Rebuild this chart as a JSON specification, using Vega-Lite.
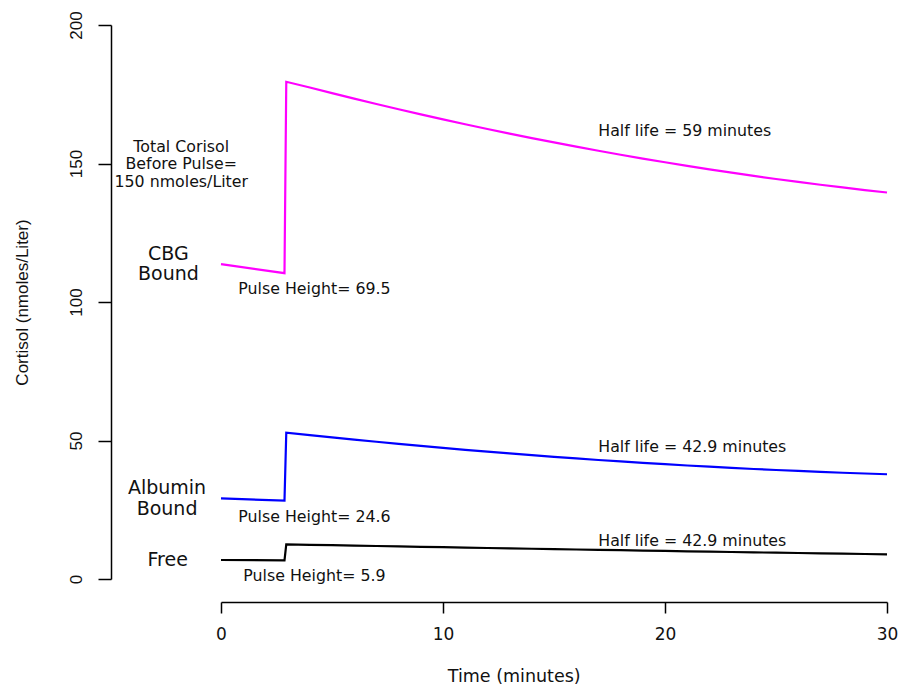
{
  "$schema": "https://vega.github.io/schema/vega-lite/v6.json",
  "width": 666,
  "height": 554,
  "autosize": {"type": "none"},
  "padding": {"left": 221, "top": 25, "right": 13, "bottom": 106},
  "background": "white",
  "config": {"view": {"stroke": null}, "font": "DejaVu Sans"},
  "datasets": {
    "curves": [
      {"series": "CBG Bound", "t": 0, "v": 113.7},
      {"series": "CBG Bound", "t": 2.86, "v": 110.4},
      {"series": "CBG Bound", "t": 2.94, "v": 179.5},
      {"series": "CBG Bound", "t": 4, "v": 177.42},
      {"series": "CBG Bound", "t": 5, "v": 175.39},
      {"series": "CBG Bound", "t": 6, "v": 173.41},
      {"series": "CBG Bound", "t": 7, "v": 171.47},
      {"series": "CBG Bound", "t": 8, "v": 169.57},
      {"series": "CBG Bound", "t": 9, "v": 167.73},
      {"series": "CBG Bound", "t": 10, "v": 165.93},
      {"series": "CBG Bound", "t": 11, "v": 164.17},
      {"series": "CBG Bound", "t": 12, "v": 162.46},
      {"series": "CBG Bound", "t": 13, "v": 160.8},
      {"series": "CBG Bound", "t": 14, "v": 159.18},
      {"series": "CBG Bound", "t": 15, "v": 157.61},
      {"series": "CBG Bound", "t": 16, "v": 156.08},
      {"series": "CBG Bound", "t": 17, "v": 154.6},
      {"series": "CBG Bound", "t": 18, "v": 153.17},
      {"series": "CBG Bound", "t": 19, "v": 151.78},
      {"series": "CBG Bound", "t": 20, "v": 150.44},
      {"series": "CBG Bound", "t": 21, "v": 149.14},
      {"series": "CBG Bound", "t": 22, "v": 147.89},
      {"series": "CBG Bound", "t": 23, "v": 146.68},
      {"series": "CBG Bound", "t": 24, "v": 145.53},
      {"series": "CBG Bound", "t": 25, "v": 144.41},
      {"series": "CBG Bound", "t": 26, "v": 143.35},
      {"series": "CBG Bound", "t": 27, "v": 142.33},
      {"series": "CBG Bound", "t": 28, "v": 141.35},
      {"series": "CBG Bound", "t": 29, "v": 140.42},
      {"series": "CBG Bound", "t": 30, "v": 139.54},
      {"series": "Albumin Bound", "t": 0, "v": 29.1},
      {"series": "Albumin Bound", "t": 2.86, "v": 28.3},
      {"series": "Albumin Bound", "t": 2.94, "v": 52.8},
      {"series": "Albumin Bound", "t": 4, "v": 51.95},
      {"series": "Albumin Bound", "t": 5, "v": 51.12},
      {"series": "Albumin Bound", "t": 6, "v": 50.32},
      {"series": "Albumin Bound", "t": 7, "v": 49.54},
      {"series": "Albumin Bound", "t": 8, "v": 48.78},
      {"series": "Albumin Bound", "t": 9, "v": 48.04},
      {"series": "Albumin Bound", "t": 10, "v": 47.33},
      {"series": "Albumin Bound", "t": 11, "v": 46.64},
      {"series": "Albumin Bound", "t": 12, "v": 45.97},
      {"series": "Albumin Bound", "t": 13, "v": 45.32},
      {"series": "Albumin Bound", "t": 14, "v": 44.7},
      {"series": "Albumin Bound", "t": 15, "v": 44.1},
      {"series": "Albumin Bound", "t": 16, "v": 43.52},
      {"series": "Albumin Bound", "t": 17, "v": 42.97},
      {"series": "Albumin Bound", "t": 18, "v": 42.44},
      {"series": "Albumin Bound", "t": 19, "v": 41.93},
      {"series": "Albumin Bound", "t": 20, "v": 41.44},
      {"series": "Albumin Bound", "t": 21, "v": 40.98},
      {"series": "Albumin Bound", "t": 22, "v": 40.54},
      {"series": "Albumin Bound", "t": 23, "v": 40.12},
      {"series": "Albumin Bound", "t": 24, "v": 39.72},
      {"series": "Albumin Bound", "t": 25, "v": 39.35},
      {"series": "Albumin Bound", "t": 26, "v": 39.0},
      {"series": "Albumin Bound", "t": 27, "v": 38.67},
      {"series": "Albumin Bound", "t": 28, "v": 38.36},
      {"series": "Albumin Bound", "t": 29, "v": 38.08},
      {"series": "Albumin Bound", "t": 30, "v": 37.82},
      {"series": "Free", "t": 0, "v": 6.86},
      {"series": "Free", "t": 2.86, "v": 6.75},
      {"series": "Free", "t": 2.94, "v": 12.5},
      {"series": "Free", "t": 4, "v": 12.35},
      {"series": "Free", "t": 5, "v": 12.2},
      {"series": "Free", "t": 6, "v": 12.06},
      {"series": "Free", "t": 7, "v": 11.91},
      {"series": "Free", "t": 8, "v": 11.77},
      {"series": "Free", "t": 9, "v": 11.62},
      {"series": "Free", "t": 10, "v": 11.48},
      {"series": "Free", "t": 11, "v": 11.34},
      {"series": "Free", "t": 12, "v": 11.2},
      {"series": "Free", "t": 13, "v": 11.06},
      {"series": "Free", "t": 14, "v": 10.92},
      {"series": "Free", "t": 15, "v": 10.79},
      {"series": "Free", "t": 16, "v": 10.65},
      {"series": "Free", "t": 17, "v": 10.52},
      {"series": "Free", "t": 18, "v": 10.39},
      {"series": "Free", "t": 19, "v": 10.26},
      {"series": "Free", "t": 20, "v": 10.13},
      {"series": "Free", "t": 21, "v": 10.0},
      {"series": "Free", "t": 22, "v": 9.87},
      {"series": "Free", "t": 23, "v": 9.75},
      {"series": "Free", "t": 24, "v": 9.62},
      {"series": "Free", "t": 25, "v": 9.5},
      {"series": "Free", "t": 26, "v": 9.38},
      {"series": "Free", "t": 27, "v": 9.26},
      {"series": "Free", "t": 28, "v": 9.14},
      {"series": "Free", "t": 29, "v": 9.02},
      {"series": "Free", "t": 30, "v": 8.9}
    ],
    "labels": [
      {"kind": "name", "t": -2.37, "v": 117.3, "label": "CBG"},
      {"kind": "name", "t": -2.37, "v": 110.0, "label": "Bound"},
      {"kind": "name", "t": -2.43, "v": 32.9, "label": "Albumin"},
      {"kind": "name", "t": -2.43, "v": 25.3, "label": "Bound"},
      {"kind": "name", "t": -2.4, "v": 6.9, "label": "Free"},
      {"kind": "note", "t": -1.79, "v": 156.1, "label": "Total Corisol"},
      {"kind": "note", "t": -1.79, "v": 149.7, "label": "Before Pulse="},
      {"kind": "note", "t": -1.79, "v": 143.4, "label": "150 nmoles/Liter"},
      {"kind": "note", "t": 4.21, "v": 104.7, "label": "Pulse Height= 69.5"},
      {"kind": "note", "t": 4.21, "v": 22.5, "label": "Pulse Height= 24.6"},
      {"kind": "note", "t": 4.21, "v": 1.2, "label": "Pulse Height= 5.9"},
      {"kind": "note", "t": 20.89, "v": 161.8, "label": "Half life = 59 minutes"},
      {"kind": "note", "t": 21.23, "v": 47.8, "label": "Half life = 42.9 minutes"},
      {"kind": "note", "t": 21.23, "v": 13.8, "label": "Half life = 42.9 minutes"}
    ]
  },
  "encoding": {
    "x": {
      "field": "t",
      "type": "quantitative",
      "scale": {"domain": [0, 30], "nice": false, "zero": false},
      "axis": {
        "values": [0, 10, 20, 30],
        "offset": 23,
        "grid": false,
        "tickSize": 11,
        "tickWidth": 1.5,
        "tickColor": "black",
        "domainColor": "black",
        "domainWidth": 1.5,
        "labelPadding": 13,
        "labelFont": "DejaVu Sans",
        "labelFontSize": 17,
        "labelColor": "#111",
        "labelFlush": false,
        "labelOverlap": false,
        "labelBound": false,
        "title": "Time (minutes)",
        "titleFont": "DejaVu Sans",
        "titleFontSize": 17.5,
        "titleFontWeight": "normal",
        "titleColor": "#111",
        "titleX": 292.7,
        "titleY": 74,
        "titleAlign": "center",
        "titleBaseline": "middle"
      }
    },
    "y": {
      "field": "v",
      "type": "quantitative",
      "scale": {"domain": [0, 200], "nice": false, "zero": false},
      "axis": {
        "values": [0, 50, 100, 150, 200],
        "offset": 110,
        "grid": false,
        "tickSize": 13,
        "tickWidth": 1.5,
        "tickColor": "black",
        "domainColor": "black",
        "domainWidth": 1.5,
        "labelAngle": -90,
        "labelAlign": "center",
        "labelBaseline": "alphabetic",
        "labelPadding": 17,
        "labelFont": "Liberation Sans",
        "labelFontSize": 17,
        "labelColor": "#111",
        "labelFlush": false,
        "labelOverlap": false,
        "labelBound": false,
        "title": "Cortisol (nmoles/Liter)",
        "titleFont": "Liberation Sans",
        "titleFontSize": 17,
        "titleFontWeight": "normal",
        "titleColor": "#111",
        "titleAngle": -90,
        "titleX": -89,
        "titleY": 277,
        "titleAlign": "center",
        "titleBaseline": "middle"
      }
    }
  },
  "layer": [
    {
      "data": {"name": "curves"},
      "mark": {"type": "line", "strokeWidth": 2.2, "clip": false},
      "encoding": {
        "color": {
          "field": "series",
          "type": "nominal",
          "scale": {"domain": ["CBG Bound", "Albumin Bound", "Free"], "range": ["#FF00FF", "#0000FF", "#000000"]},
          "legend": null
        }
      }
    },
    {
      "data": {"name": "labels"},
      "transform": [{"filter": "datum.kind === 'name'"}],
      "mark": {"type": "text", "align": "center", "baseline": "middle", "font": "DejaVu Sans", "fontSize": 19, "color": "#111", "clip": false},
      "encoding": {"text": {"field": "label", "type": "nominal"}}
    },
    {
      "data": {"name": "labels"},
      "transform": [{"filter": "datum.kind === 'note'"}],
      "mark": {"type": "text", "align": "center", "baseline": "middle", "font": "DejaVu Sans", "fontSize": 15.8, "color": "#111", "clip": false},
      "encoding": {"text": {"field": "label", "type": "nominal"}}
    }
  ]
}
